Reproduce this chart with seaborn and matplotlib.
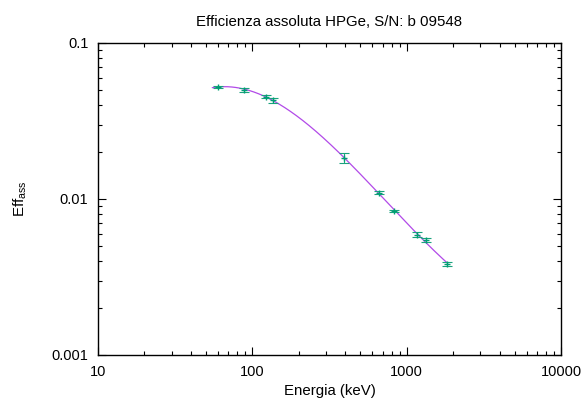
import numpy as np
import pandas as pd
import matplotlib
matplotlib.use("Agg")
import matplotlib.pyplot as plt
import seaborn as sns
from matplotlib.ticker import LogLocator, NullFormatter, FixedLocator, FixedFormatter

# ---- data ----
energy_keV = [59.5, 88.0, 122.0, 136.0, 392.0, 662.0, 834.0, 1173.0, 1332.0, 1836.0]
efficiency = [0.0523, 0.0503, 0.0452, 0.0430, 0.0183, 0.01096, 0.00836, 0.00592, 0.00547, 0.00384]
eff_error = [0.0010, 0.0015, 0.0010, 0.0015, 0.0014, 0.00025, 0.00015, 0.00018, 0.00018, 0.00012]
fit_range_keV = [55.0, 1840.0]

x_ticks = [10, 100, 1000, 10000]
x_tick_labels = ["10", "100", "1000", "10000"]
y_ticks = [0.001, 0.01, 0.1]
y_tick_labels = ["0.001", "0.01", "0.1"]

title = "Efficienza assoluta HPGe, S/N: b 09548"
xlabel = "Energia (keV)"
ylabel = r"Eff$_{\mathrm{ass}}$"

# ---- style ----
sns.set_theme(style="ticks")
plt.rcParams["font.family"] = ["Liberation Sans", "DejaVu Sans"]
plt.rcParams["mathtext.fontset"] = "custom"
plt.rcParams["mathtext.rm"] = "Liberation Sans"
plt.rcParams["mathtext.it"] = "Liberation Sans:italic"

fig = plt.figure(figsize=(5.84, 4.03), dpi=100)
W, H = 584, 403
left, right, top, bottom = 98, 561, 43, 355
ax = fig.add_axes([left / W, 1 - bottom / H, (right - left) / W, (bottom - top) / H])

# fit in log-log space (as in the original gnuplot fit)
lx = np.log(energy_keV)
ly = np.log(efficiency)
coef = np.polyfit(lx, ly, 3, w=np.array(efficiency) / np.array(eff_error))
xf = np.logspace(np.log10(fit_range_keV[0]), np.log10(fit_range_keV[1]), 300)
yf = np.exp(np.polyval(coef, np.log(xf)))
fit_df = pd.DataFrame({"E": xf, "eff": yf})
pts_df = pd.DataFrame({"E": energy_keV, "eff": efficiency, "err": eff_error})

sns.lineplot(data=fit_df, x="E", y="eff", ax=ax, color="#b24ae8", lw=0.9, zorder=2)
ax.errorbar(pts_df["E"], pts_df["eff"], yerr=pts_df["err"], fmt="none",
            ecolor="#1aa37e", elinewidth=0.8, capsize=3.5, capthick=0.8, zorder=3)
sns.scatterplot(data=pts_df, x="E", y="eff", ax=ax, marker="+", s=22,
                color="#009e73", linewidth=1.0, zorder=4)

ax.set_xscale("log")
ax.set_yscale("log")
ax.set_xlim(10, 10000)
ax.set_ylim(0.001, 0.1)

ax.xaxis.set_major_locator(FixedLocator(x_ticks))
ax.xaxis.set_major_formatter(FixedFormatter(x_tick_labels))
ax.yaxis.set_major_locator(FixedLocator(y_ticks))
ax.yaxis.set_major_formatter(FixedFormatter(y_tick_labels))
ax.xaxis.set_minor_locator(LogLocator(base=10, subs=np.arange(2, 10)))
ax.yaxis.set_minor_locator(LogLocator(base=10, subs=np.arange(2, 10)))
ax.xaxis.set_minor_formatter(NullFormatter())
ax.yaxis.set_minor_formatter(NullFormatter())

ax.tick_params(which="both", direction="in", top=True, right=True, color="black",
               labelsize=10.5, labelcolor="black")
ax.tick_params(which="major", length=6, width=0.8, pad=7)
ax.tick_params(which="minor", length=3, width=0.8)
for s in ax.spines.values():
    s.set_color("black")
    s.set_linewidth(1.0)

ax.set_title(title, fontsize=10.8, color="black", pad=12)
ax.set_xlabel(xlabel, fontsize=10.8, color="black", labelpad=4)
ax.set_ylabel(ylabel, fontsize=10.8, color="black", labelpad=16)

fig.savefig("out.png", dpi=100)
